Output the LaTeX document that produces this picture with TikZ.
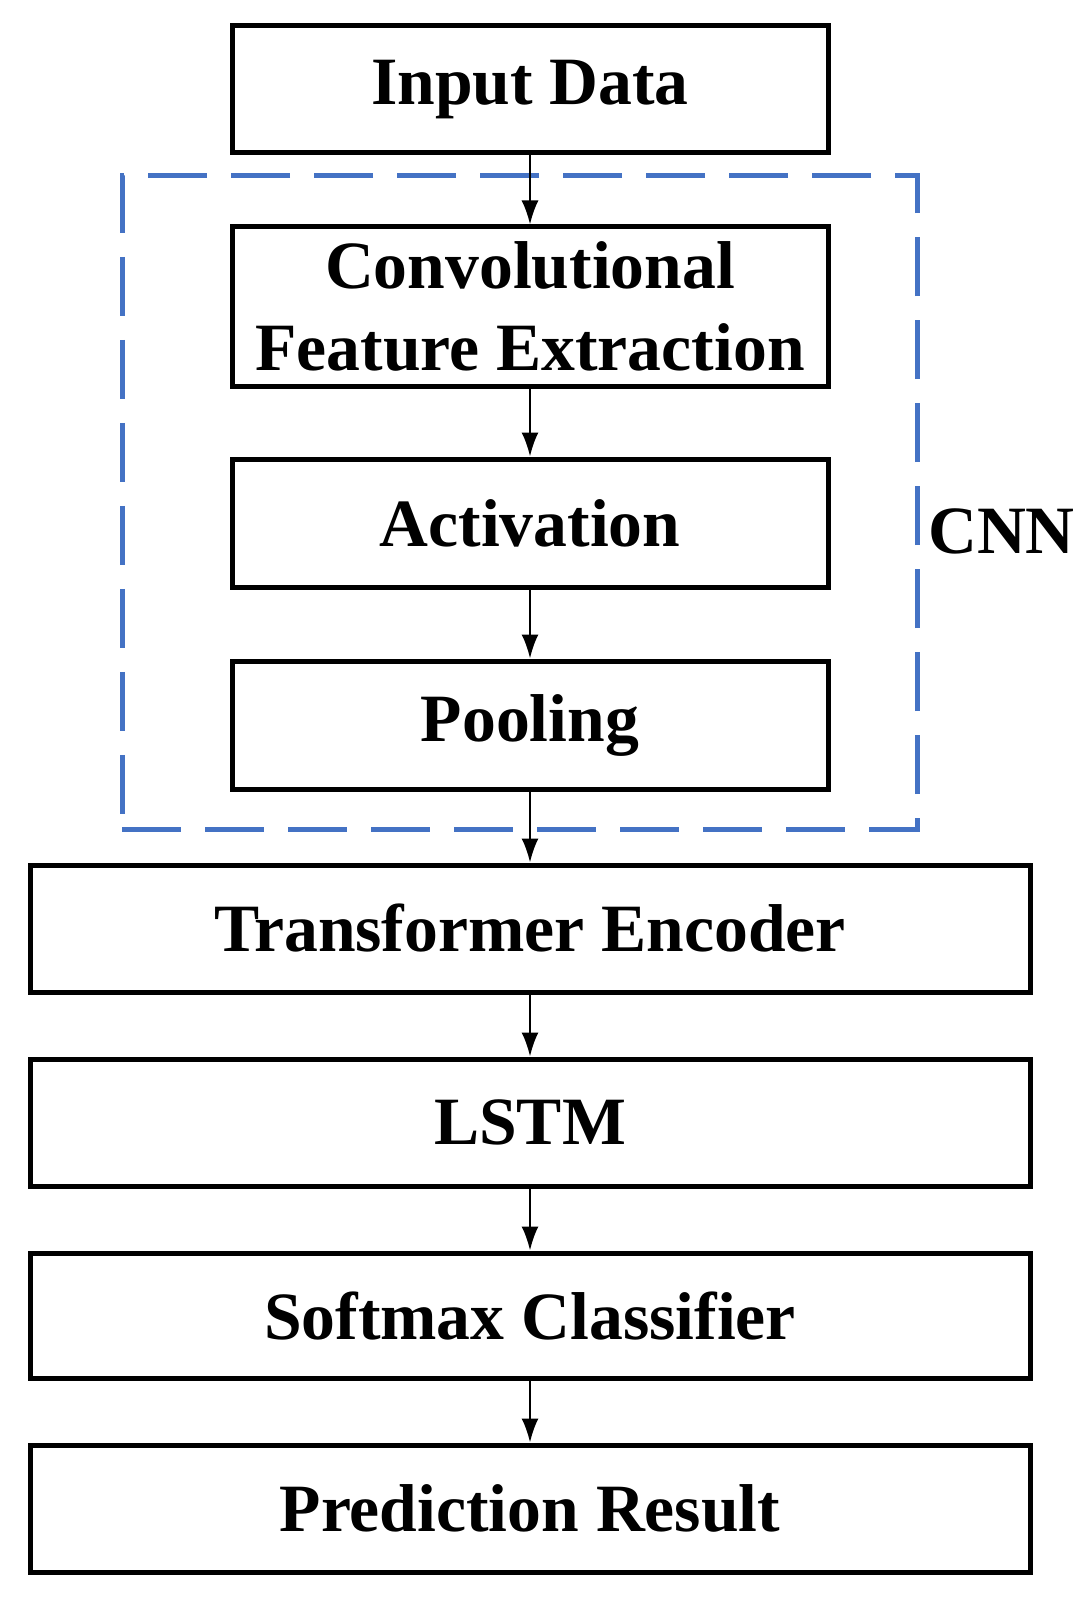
\documentclass[tikz,border=0pt]{standalone}
\usepackage{fontspec}
\setmainfont{Liberation Serif}
\usepackage{tikz}
\usetikzlibrary{arrows.meta}

\definecolor{CnnBlue}{RGB}{68,114,196}

\tikzset{
  BoxStyle/.style={draw=black, line width=0.1cm, minimum width=11.92cm,
    minimum height=2.54cm, inner sep=0pt, align=center,
    font=\fontsize{38.5}{46.5}\selectfont\bfseries},
  WideStyle/.style={BoxStyle, minimum width=20cm},
  FrameStyle/.style={draw=CnnBlue, line width=0.1cm,
    dash pattern=on 1.18cm off 0.48cm, minimum width=15.9cm,
    minimum height=13.06cm, inner sep=0pt},
  EdgeStyle/.style={line width=0.045cm, -{Latex[length=0.48cm,width=0.34cm]}}
}

\begin{document}
\begin{tikzpicture}
            \useasboundingbox (0,0) rectangle (21.8,-32.02);

            % CNN group
            \node[FrameStyle] (frame) at (10.39,-10.05){};
            \node[font=\fontsize{38.5}{46.5}\selectfont\bfseries] (cnn) at (20.03,-10.62){CNN};

            \node[BoxStyle] (input) at (10.6,-1.79){Input Data};
            \node[BoxStyle, minimum height=3.18cm] (conv) at (10.6,-6.13){Convolutional\\Feature Extraction};
            \node[BoxStyle, minimum height=2.56cm] (act) at (10.6,-10.46){Activation};
            \node[BoxStyle, minimum height=2.56cm] (pool) at (10.6,-14.5){Pooling};

            \node[WideStyle] (trans) at (10.6,-18.57){Transformer Encoder};
            \node[WideStyle] (lstm) at (10.6,-22.45){LSTM};
            \node[WideStyle, minimum height=2.5cm] (soft) at (10.6,-26.31){Softmax Classifier};
            \node[WideStyle] (pred) at (10.6,-30.17){Prediction Result};

            \draw[EdgeStyle] (input) -- (conv);
            \draw[EdgeStyle] (conv) -- (act);
            \draw[EdgeStyle] (act) -- (pool);
            \draw[EdgeStyle] (pool) -- (trans);
            \draw[EdgeStyle] (trans) -- (lstm);
            \draw[EdgeStyle] (lstm) -- (soft);
            \draw[EdgeStyle] (soft) -- (pred);
\end{tikzpicture}
\end{document}
